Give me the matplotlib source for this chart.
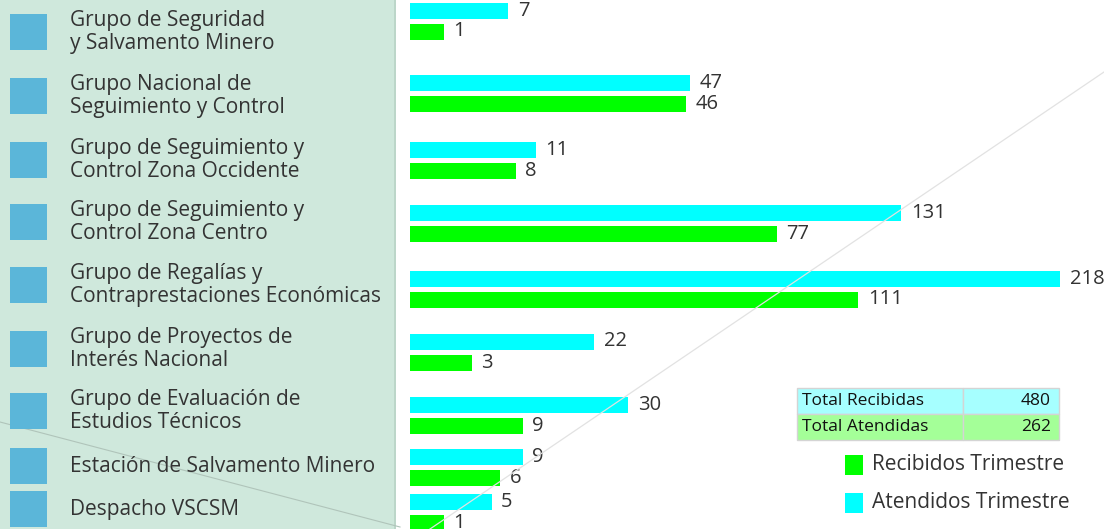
import matplotlib.pyplot as plt
import numpy as np
from matplotlib.patches import Rectangle
from matplotlib.lines import Line2D

plt.rcParams['font.family'] = ['Open Sans', 'DejaVu Sans']

# datos
grupos = ["Grupo de Seguridad\ny Salvamento Minero",
          "Grupo Nacional de\nSeguimiento y Control",
          "Grupo de Seguimiento y\nControl Zona Occidente",
          "Grupo de Seguimiento y\nControl Zona Centro",
          "Grupo de Regalías y\nContraprestaciones Económicas",
          "Grupo de Proyectos de\nInterés Nacional",
          "Grupo de Evaluación de\nEstudios Técnicos",
          "Estación de Salvamento Minero",
          "Despacho VSCSM"]
atendidos = [7, 47, 11, 131, 218, 22, 30, 9, 5]
recibidos = [1, 46, 8, 77, 111, 3, 9, 6, 1]
tabla_nombres = ["Total Recibidas", "Total Atendidas"]
tabla_valores = [480, 262]

W, H = 1104, 529
# posiciones (pixeles, desde arriba)
fila_y = [21, 93.5, 160.5, 223.5, 289, 352, 415.5, 467.5, 512.5]
etiqueta_y = [32, 96, 160, 222, 285, 349, 411, 466, 509]

c_cyan = '#00ffff'
c_verde = '#00ff00'
c_texto = '#333333'

fig = plt.figure(figsize=(W/100, H/100), dpi=100)
fig.patch.set_facecolor('white')

# panel izquierdo
fig.add_artist(Rectangle((0, 0), 396/W, 1, transform=fig.transFigure,
                         facecolor='#cfe8dc', edgecolor='none', zorder=0))
fig.add_artist(Line2D([395/W, 395/W], [0, 1], transform=fig.transFigure,
                      color='#b9d3c6', lw=1.2, zorder=1))
# lineas diagonales tenues
fig.add_artist(Line2D([0, 400/W], [1-422/H, 1-527/H], transform=fig.transFigure,
                      color='#b0c4ba', lw=0.8, zorder=1))
fig.add_artist(Line2D([430/W, 1], [1-529/H, 1-72/H], transform=fig.transFigure,
                      color='#e2e2e2', lw=0.9, zorder=1))

for lab, yc in zip(grupos, etiqueta_y):
    fig.add_artist(Rectangle((10/W, 1-(yc+18)/H), 37/W, 36/H, transform=fig.transFigure,
                             facecolor='#5bb6d9', edgecolor='none', zorder=2))
    fig.text(70/W, 1-yc/H, lab, ha='left', va='center', fontsize=15,
             color=c_texto, linespacing=1.13)

# barras
ax = fig.add_axes([410/W, 0, 650/W, 1])
ax.set_xscale('function', functions=(lambda v: np.power(np.clip(v, 0, None), 0.55),
                                     lambda v: np.power(np.clip(v, 0, None), 1/0.55)))
ax.set_xlim(0, 218)
ax.set_ylim(H, 0)
ax.axis('off')
ax.patch.set_alpha(0)

y = np.array(fila_y)
b1 = ax.barh(y - 10.5, atendidos, height=16, color=c_cyan)
b2 = ax.barh(y + 10.5, recibidos, height=16, color=c_verde)
for bars, vals in ((b1, atendidos), (b2, recibidos)):
    for b, v in zip(bars, vals):
        ax.annotate(str(v), (v, b.get_y() + b.get_height()/2), xytext=(7, 0),
                    textcoords='offset points', ha='left', va='center',
                    fontsize=14.5, color=c_texto, annotation_clip=False)

# tabla de totales
t_x0, t_x1, t_x2 = 797, 963, 1059
t_y = [388, 414, 440]
t_col = ['#a6ffff', '#a4ff98']
for i in range(2):
    for xa, xb in ((t_x0, t_x1), (t_x1, t_x2)):
        fig.add_artist(Rectangle((xa/W, 1-t_y[i+1]/H), (xb-xa)/W, (t_y[i+1]-t_y[i])/H,
                                 transform=fig.transFigure, facecolor=t_col[i],
                                 edgecolor='#d4d4d4', lw=1, zorder=2))
    ym = 1 - (t_y[i] + t_y[i+1]) / 2 / H
    fig.text((t_x0+5)/W, ym, tabla_nombres[i], ha='left', va='center',
             fontsize=12.5, color='#111111', zorder=3)
    fig.text((t_x2-8)/W, ym, str(tabla_valores[i]), ha='right', va='center',
             fontsize=12.5, color='#111111', zorder=3)

# leyenda
for txt, col, yc in (("Recibidos Trimestre", c_verde, 465), ("Atendidos Trimestre", c_cyan, 503)):
    fig.add_artist(Rectangle((845/W, 1-(yc+10)/H), 18/W, 20/H, transform=fig.transFigure,
                             facecolor=col, edgecolor='none', zorder=2))
    fig.text(872/W, 1-yc/H, txt, ha='left', va='center', fontsize=15, color=c_texto)

fig.savefig('out.png', dpi=100)
